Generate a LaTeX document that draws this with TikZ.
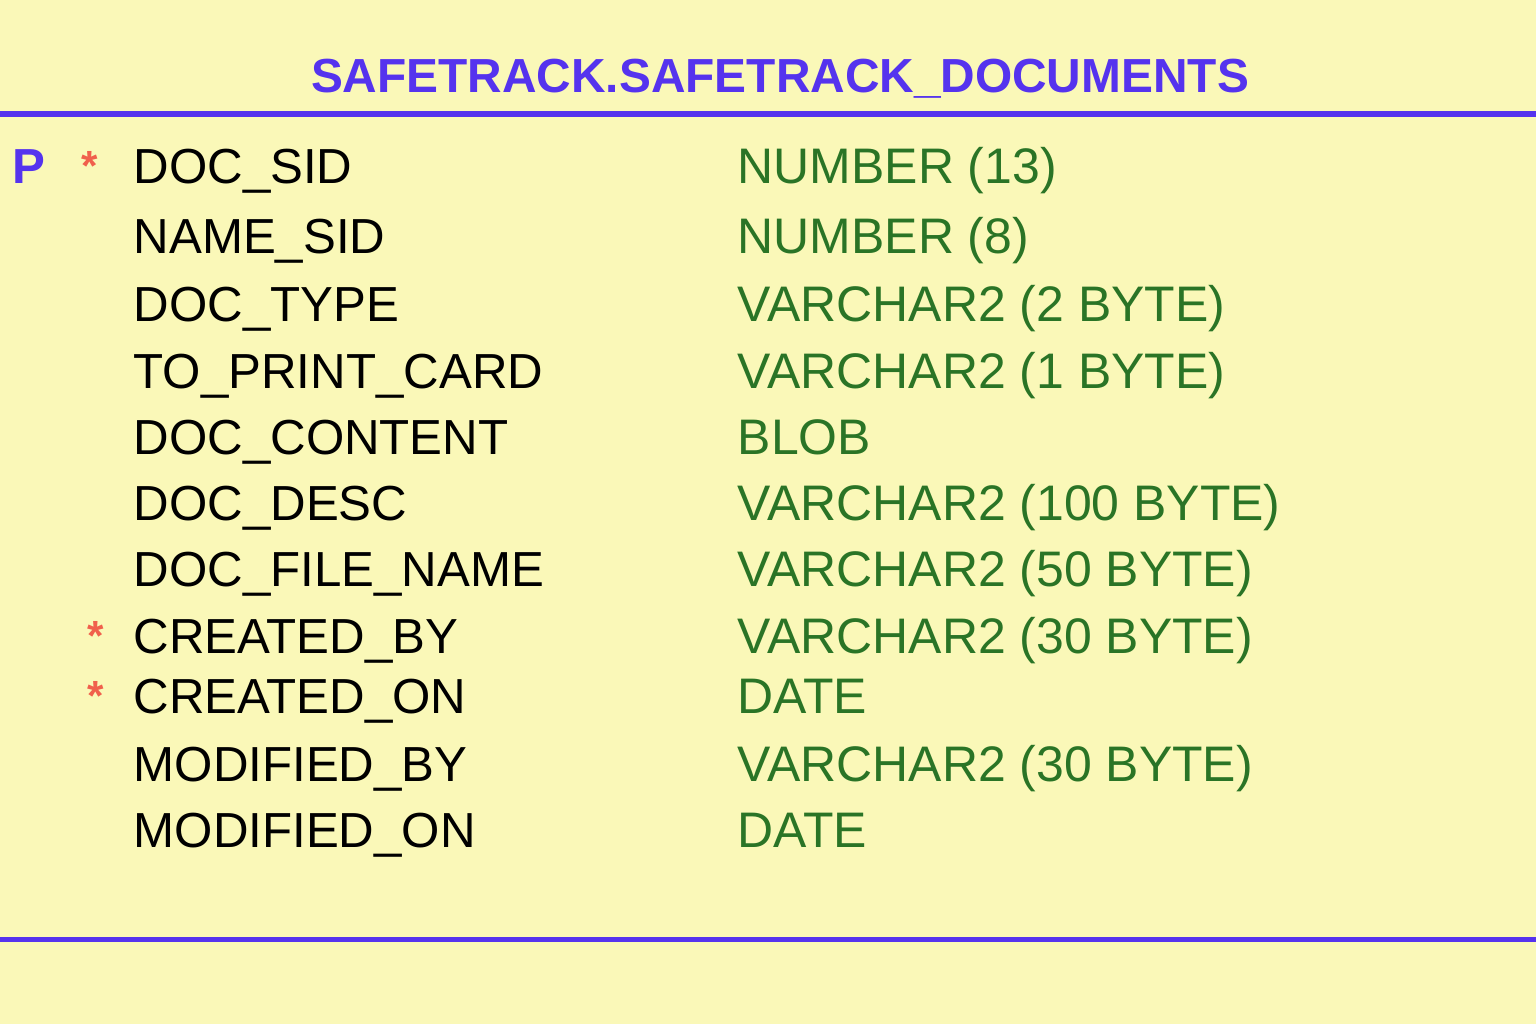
\documentclass[tikz,border=0pt]{standalone}
\usepackage{fontspec}
\setmainfont{Liberation Sans}
\definecolor{bg}{HTML}{FAF8B8}
\definecolor{pk}{HTML}{5533EE}
\definecolor{ty}{HTML}{2A7426}
\definecolor{st}{HTML}{F0604C}
\tikzset{
  colname/.style={anchor=base west, inner sep=0pt, font=\fontsize{14}{16}\selectfont, text=black},
  coltype/.style={anchor=base west, inner sep=0pt, font=\fontsize{14.2}{16}\selectfont, text=ty},
  star/.style={anchor=base west, inner sep=0pt, font=\fontsize{12}{14}\bfseries\selectfont, text=st},
  pkey/.style={anchor=base west, inner sep=0pt, font=\fontsize{14}{16}\bfseries\selectfont, text=pk},
  rule/.style={draw=pk, line width=0.05cm},
}
\begin{document}
\begin{tikzpicture}[x=0.01cm, y=-0.01cm]
\fill[bg] (0,0) rectangle (1536,1024);
\useasboundingbox (0,0) rectangle (1536,1024);
\node[anchor=base, inner sep=0pt, font=\fontsize{13.6}{16}\bfseries\selectfont, text=pk] (title) at (780,92) {SAFETRACK.SAFETRACK\_DOCUMENTS};
\coordinate (t1) at (0,114); \coordinate (t2) at (1536,114);
\coordinate (b1) at (0,939); \coordinate (b2) at (1536,939);
\draw[rule] (t1) -- (t2);
\draw[rule] (b1) -- (b2);
\node[pkey] (p1) at (12,183) {P};
\node[star] (s1) at (81,180) {*};
\node[star] (s8) at (87,650) {*};
\node[star] (s9) at (87,710) {*};
\node[colname] (n1) at (133,183) {DOC\_SID};
\node[colname] (n2) at (133,253) {NAME\_SID};
\node[colname] (n3) at (133,321) {DOC\_TYPE};
\node[colname] (n4) at (133,388) {TO\_PRINT\_CARD};
\node[colname] (n5) at (133,454) {DOC\_CONTENT};
\node[colname] (n6) at (133,520) {DOC\_DESC};
\node[colname] (n7) at (133,586) {DOC\_FILE\_NAME};
\node[colname] (n8) at (133,653) {CREATED\_BY};
\node[colname] (n9) at (133,713) {CREATED\_ON};
\node[colname] (n10) at (133,781) {MODIFIED\_BY};
\node[colname] (n11) at (133,847) {MODIFIED\_ON};
\node[coltype] (y1) at (737,183) {NUMBER (13)};
\node[coltype] (y2) at (737,253) {NUMBER (8)};
\node[coltype] (y3) at (737,321) {VARCHAR2 (2 BYTE)};
\node[coltype] (y4) at (737,388) {VARCHAR2 (1 BYTE)};
\node[coltype] (y5) at (737,454) {BLOB};
\node[coltype] (y6) at (737,520) {VARCHAR2 (100 BYTE)};
\node[coltype] (y7) at (737,586) {VARCHAR2 (50 BYTE)};
\node[coltype] (y8) at (737,653) {VARCHAR2 (30 BYTE)};
\node[coltype] (y9) at (737,713) {DATE};
\node[coltype] (y10) at (737,781) {VARCHAR2 (30 BYTE)};
\node[coltype] (y11) at (737,847) {DATE};
\end{tikzpicture}
\end{document}
